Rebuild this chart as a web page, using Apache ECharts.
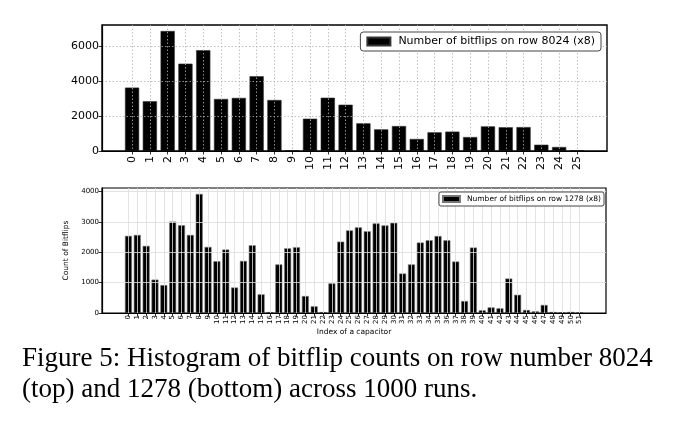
<!DOCTYPE html>
<html lang="en">
<head>
  <meta charset="UTF-8">
  <title>bitflip histogram</title>
  <style>
    * { padding: 0; margin: 0; }
    body { background: #fff; }
    #charts { width: 680px; height: 422px; }
  </style>
</head>
<body>
  <div id="charts"></div>
</body>
<script src="https://cdn.jsdelivr.net/npm/echarts@6/dist/echarts.min.js" type="text/javascript"></script>
<script type="text/javascript">
  // row 8024 (top)
  var topCounts = [3630, 2850, 6870, 5000, 5770, 2980, 3040, 4280, 2920, 20,
    1850, 3050, 2650, 1585, 1240, 1430, 690, 1070, 1110, 800,
    1410, 1360, 1370, 360, 230, 20]
  // row 1278 (bottom)
  var bottomCounts = [2540, 2570, 2210, 1100, 920, 3010, 2890, 2570, 3920, 2175,
    1705, 2090, 840, 1715, 2230, 615, 30, 1600, 2130, 2165,
    560, 220, 30, 975, 2350, 2720, 2820, 2690, 2950, 2885,
    2970, 1300, 1600, 2320, 2395, 2535, 2395, 1695, 395, 2155,
    90, 185, 155, 1135, 600, 100, 55, 265, 35, 10, 35, 20]
  var topYTicks = [0, 2000, 4000, 6000]
  var bottomYTicks = [0, 1000, 2000, 3000, 4000]
  var topName = 'Number of bitflips on row 8024 (x8)'
  var bottomName = 'Number of bitflips on row 1278 (x8)'
  var caption = 'Figure 5: Histogram of bitflip counts on row number 8024\n(top) and 1278 (bottom) across 1000 runs.'

  var topIndex = topCounts.map(function (v, i) { return i })
  var bottomIndex = bottomCounts.map(function (v, i) { return i })

  // matplotlib style limits: bars +-0.4, 5% margin
  function xLimits(n) {
    var lo = -0.4, hi = n - 1 + 0.4, m = (hi - lo) * 0.05
    return [lo - m, hi + m]
  }
  var topLim = xLimits(topCounts.length)
  var bottomLim = xLimits(bottomCounts.length)

  var font = 'DejaVu Sans'
  var myChart = echarts.init(document.getElementById('charts'))

  function gridLine(dotted) {
    return { show: true, lineStyle: { color: dotted ? '#b0b0b0' : '#dcdcdc', width: 0.8, type: dotted ? [1.5, 2] : 'solid' } }
  }
  function xAxisOf(gridIndex, lim, ticks, size, margin, dotted) {
    return {
      type: 'value', gridIndex: gridIndex, min: lim[0], max: lim[1],
      axisLine: { show: true, onZero: false, lineStyle: { color: '#000', width: 1.2 } },
      axisTick: { show: true, length: 3.5, customValues: ticks, lineStyle: { color: '#000', width: 0.8 } },
      axisLabel: { customValues: ticks, rotate: 90, margin: margin, fontFamily: font, fontSize: size, color: '#000',
        formatter: function (v) { return String(v) } },
      splitLine: gridLine(dotted)
    }
  }
  function yAxisOf(gridIndex, max, ticks, size, dotted) {
    return {
      type: 'value', gridIndex: gridIndex, min: 0, max: max,
      axisLine: { show: true, onZero: false, lineStyle: { color: '#000', width: 1.2 } },
      axisTick: { show: true, length: 3.5, customValues: ticks, lineStyle: { color: '#000', width: 0.8 } },
      axisLabel: { customValues: ticks, margin: 3, fontFamily: font, fontSize: size, color: '#000',
        formatter: function (v) { return String(v) } },
      splitLine: gridLine(dotted)
    }
  }

  var option = {
    backgroundColor: '#fff',
    animation: false,
    title: {
      text: caption, left: 22, top: 344, padding: 0,
      textStyle: { fontFamily: 'Liberation Serif', fontSize: 27, fontWeight: 'normal', color: '#000', lineHeight: 30.5 }
    },
    legend: [{
      data: [topName], right: 79, top: 32, padding: [4, 6], itemWidth: 23, itemHeight: 8,
      icon: 'rect', borderColor: '#444', borderWidth: 1, borderRadius: 3, backgroundColor: '#fff',
      textStyle: { fontFamily: font, fontSize: 11, color: '#000', padding: [0, 0, 0, 3] }
    }, {
      data: [bottomName], right: 76, top: 192, padding: [3, 3], itemWidth: 17, itemHeight: 6,
      icon: 'rect', borderColor: '#444', borderWidth: 1, borderRadius: 2, backgroundColor: '#fff',
      textStyle: { fontFamily: font, fontSize: 7.5, color: '#000', padding: [0, 0, 0, 2] }
    }],
    grid: [
      { left: 102, top: 25, width: 505, height: 126, show: true, borderColor: '#000', borderWidth: 1.4 },
      { left: 102, top: 188, width: 504, height: 125, show: true, borderColor: '#000', borderWidth: 1.2 }
    ],
    xAxis: [
      xAxisOf(0, topLim, topIndex, 11, 5, true),
      Object.assign(xAxisOf(1, bottomLim, bottomIndex, 7, 2, false), {
        name: 'Index of a capacitor', nameLocation: 'middle', nameGap: 14,
        nameTextStyle: { fontFamily: font, fontSize: 7.5, color: '#000' }
      })
    ],
    yAxis: [
      yAxisOf(0, Math.max.apply(null, topCounts) * 1.05, topYTicks, 11, true),
      Object.assign(yAxisOf(1, Math.max.apply(null, bottomCounts) * 1.05, bottomYTicks, 7, false), {
        name: 'Count of Bitflips', nameLocation: 'middle', nameGap: 23,
        nameTextStyle: { fontFamily: font, fontSize: 7.5, color: '#000' }
      })
    ],
    series: [{
      name: topName, type: 'bar', xAxisIndex: 0, yAxisIndex: 0, barWidth: 14.2, z: -1,
      itemStyle: { color: '#000', borderColor: '#333', borderWidth: 0.6 },
      data: topIndex.map(function (i) { return [i, topCounts[i]] })
    }, {
      name: bottomName, type: 'bar', xAxisIndex: 1, yAxisIndex: 1, barWidth: 7, z: -1,
      itemStyle: { color: '#000', borderColor: '#777', borderWidth: 0.6 },
      data: bottomIndex.map(function (i) { return [i, bottomCounts[i]] })
    }]
  }
  myChart.setOption(option)
</script>
</html>
